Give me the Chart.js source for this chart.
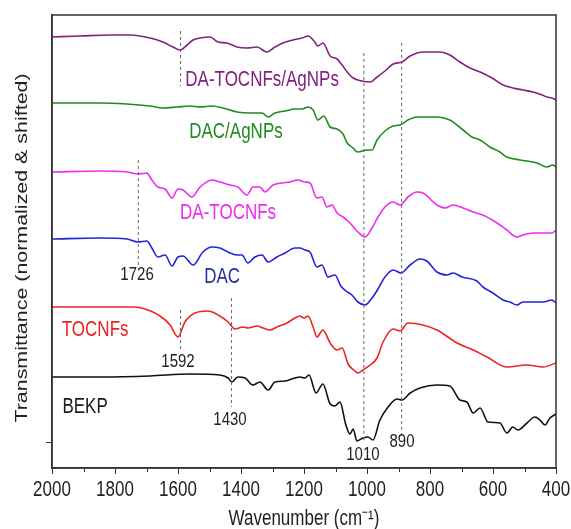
<!DOCTYPE html>
<html>
<head>
<meta charset="utf-8">
<script src="https://cdn.jsdelivr.net/npm/chart.js@4"></script>
<style>
  html, body { margin: 0; padding: 0; background: #fff; }
  #wrap { width: 571px; height: 529px; }
</style>
</head>
<body>
<div id="wrap"><canvas id="ftirChart" width="571" height="529"></canvas></div>
<script>
// spectra: [wavenumber (cm-1), transmittance (normalized & shifted, a.u.)]
const bekp = [[2000,6.5],[1848,6.5],[1689,6.6],[1562,6.8],[1467,6.7],[1441,6.4],[1429,6.0],[1410,6.5],[1387,6.4],[1362,5.7],[1340,6.0],[1314,5.2],[1292,6.0],[1260,6.1],[1229,6.4],[1213,6.5],[1197,6.4],[1184,6.7],[1162,4.9],[1140,5.8],[1117,3.8],[1102,3.6],[1086,4.0],[1067,1.7],[1054,0.8],[1044,1.3],[1032,0.1],[1013,0.4],[997,0.5],[981,0.2],[959,2.2],[933,3.5],[905,4.3],[889,4.2],[863,4.9],[832,5.4],[778,5.7],[737,5.6],[705,4.2],[683,4.0],[663,2.9],[641,3.4],[616,2.0],[578,1.9],[556,0.9],[537,1.5],[521,1.2],[492,1.9],[467,2.5],[451,2.2],[435,1.7],[419,2.4],[400,2.8]];
const tocnfs = [[2000,13.5],[1848,13.5],[1737,13.5],[1705,13.3],[1657,12.6],[1625,11.7],[1600,10.5],[1578,12.0],[1546,12.9],[1505,13.1],[1467,12.6],[1441,12.0],[1419,11.3],[1394,11.5],[1378,11.4],[1349,11.6],[1330,11.4],[1308,11.2],[1286,11.5],[1254,11.9],[1229,12.4],[1213,12.6],[1200,12.4],[1187,12.6],[1171,11.5],[1159,10.5],[1140,11.2],[1117,9.9],[1095,9.2],[1079,9.4],[1060,7.8],[1038,7.1],[1029,6.9],[1013,7.2],[990,7.7],[968,8.4],[949,10.0],[917,11.3],[895,11.1],[870,11.9],[822,11.7],[778,11.2],[714,9.9],[663,9.2],[619,8.5],[556,7.5],[492,7.7],[441,7.5],[400,7.9]];
const dac = [[2000,20.3],[1848,20.4],[1762,20.3],[1727,20.0],[1699,20.1],[1683,19.4],[1664,18.5],[1641,18.7],[1619,17.6],[1600,18.5],[1584,18.6],[1552,17.7],[1521,19.0],[1492,19.5],[1467,19.4],[1441,19.0],[1413,18.7],[1397,18.7],[1378,17.9],[1356,18.5],[1333,18.7],[1314,18.0],[1286,18.5],[1260,18.9],[1229,19.4],[1213,19.4],[1197,19.2],[1181,19.0],[1159,17.5],[1143,17.7],[1124,16.5],[1102,16.7],[1083,15.6],[1067,15.1],[1048,14.7],[1029,14.0],[1006,13.7],[984,14.4],[965,15.3],[943,16.5],[917,17.2],[892,16.9],[863,17.7],[832,18.3],[810,18.1],[778,17.0],[746,16.7],[727,16.9],[698,16.5],[651,16.1],[632,15.5],[600,14.9],[568,14.2],[546,14.0],[524,13.7],[505,14.0],[473,14.0],[441,14.0],[413,14.2],[400,13.9]];
const daTocnfs = [[2000,27.0],[1848,27.1],[1762,27.0],[1727,26.8],[1699,26.9],[1683,26.2],[1664,25.5],[1641,25.3],[1619,24.4],[1600,25.3],[1584,25.2],[1556,24.5],[1530,25.5],[1492,26.2],[1467,26.0],[1435,25.7],[1410,25.5],[1381,24.7],[1362,25.5],[1340,25.5],[1324,25.0],[1298,25.7],[1270,25.9],[1244,26.0],[1219,26.2],[1197,26.0],[1181,25.9],[1159,24.4],[1143,24.5],[1127,23.5],[1111,23.7],[1095,22.9],[1076,22.5],[1054,21.9],[1029,21.0],[1006,20.5],[984,21.4],[965,22.5],[943,23.5],[917,24.0],[895,23.7],[870,24.5],[841,25.0],[822,24.9],[778,23.7],[752,23.4],[727,23.7],[695,23.4],[663,23.0],[632,22.7],[587,21.9],[556,21.2],[524,20.5],[505,20.7],[473,20.9],[441,20.9],[413,20.9],[400,21.2]];
const dacAg = [[2000,33.9],[1848,33.9],[1689,33.6],[1648,33.4],[1603,33.5],[1562,33.6],[1530,33.5],[1492,33.6],[1457,33.4],[1413,33.0],[1371,32.9],[1333,32.9],[1314,32.5],[1292,32.9],[1260,33.1],[1229,33.3],[1206,33.3],[1187,33.5],[1171,33.2],[1156,32.2],[1137,32.6],[1117,31.5],[1095,31.3],[1076,30.8],[1063,29.9],[1048,29.5],[1029,29.0],[1000,29.2],[984,29.2],[968,30.2],[943,31.1],[917,31.6],[895,31.7],[870,32.2],[841,32.5],[778,32.5],[737,32.2],[695,31.2],[667,30.5],[641,30.2],[610,29.5],[578,29.0],[556,28.5],[514,28.2],[460,27.9],[429,27.5],[410,27.7],[400,27.5]];
const daTocnfsAg = [[2000,40.5],[1911,40.6],[1816,40.7],[1752,40.7],[1689,40.4],[1648,40.0],[1616,39.5],[1594,39.2],[1571,39.7],[1552,40.2],[1530,40.4],[1498,40.5],[1473,40.0],[1445,39.9],[1413,39.5],[1381,39.4],[1349,39.5],[1318,39.0],[1292,39.5],[1267,39.9],[1235,40.2],[1206,40.4],[1187,40.6],[1168,40.1],[1156,39.6],[1140,39.9],[1117,38.6],[1095,38.3],[1079,37.7],[1063,37.0],[1044,36.4],[1016,36.1],[990,36.0],[968,36.5],[943,37.1],[917,37.8],[889,38.0],[863,38.6],[822,39.0],[768,39.0],[737,38.7],[705,38.0],[673,37.4],[641,37.0],[603,36.4],[568,35.7],[537,35.4],[505,35.2],[473,35.0],[444,34.7],[429,34.5],[413,34.4],[400,34.2]];

const seriesNames = ['BEKP', 'TOCNFs', 'DAC', 'DA-TOCNFs', 'DAC/AgNPs', 'DA-TOCNFs/AgNPs'];
const seriesData = [bekp, tocnfs, dac, daTocnfs, dacAg, daTocnfsAg];
const seriesColors = ['#111111', '#ec2424', '#2323dc', '#ee2bee', '#218a21', '#80227f'];
const nameColors = ['#1a1a1a', '#ec2424', '#24309c', '#ee2bee', '#218a21', '#80227f'];
const nameAt = [[1895, 3.5], [1863, 11.2], [1460, 16.5], [1441, 22.9], [1416, 31.0], [1333, 36.2]];

// dashed guide lines: [wavenumber, top, bottom]
const guideLines = [[1592, 41.1, 35.6], [1726, 28.2, 17.5], [1592, 13.2, 9.0], [1430, 14.4, 3.5], [1010, 38.9, 0.2], [890, 39.9, 0.5]];
const peakLabels = ['1726', '1592', '1430', '1010', '890'];
const peakAt = [[1730, 16.7], [1600, 8.0], [1435, 2.2], [1013, -1.3], [889, 0.0]];

const xTicks = [2000, 1800, 1600, 1400, 1200, 1000, 800, 600, 400];
const xMinorTicks = [1900, 1700, 1500, 1300, 1100, 900, 700, 500];

const FONT = '"Liberation Sans", Arial, sans-serif';
const STRETCH = 1.26; // the source figure is drawn a bit taller than wide

// text drawn a little stretched, like in the original figure
function drawText(ctx, text, x, y, size, color, vertical) {
	ctx.save();
	ctx.translate(x, y);
	if (vertical) {
		ctx.rotate(-Math.PI / 2);
		ctx.scale(STRETCH, 1);
	} else {
		ctx.scale(1, STRETCH);
	}
	ctx.font = size + 'px ' + FONT;
	ctx.fillStyle = color;
	ctx.textAlign = 'center';
	ctx.textBaseline = 'middle';
	ctx.fillText(text, 0, 0);
	ctx.restore();
}

const frameAndText = {
	id: 'frameAndText',
	afterDraw(chart) {
		const { ctx, chartArea: a, scales: { x, y } } = chart;
		ctx.save();
		ctx.strokeStyle = '#333';
		ctx.lineWidth = 1.5;
		ctx.strokeRect(a.left, a.top, a.right - a.left, a.bottom - a.top);

		// minor ticks
		ctx.lineWidth = 1;
		xMinorTicks.forEach(function (w) {
			const px = Math.round(x.getPixelForValue(w)) + 0.5;
			ctx.beginPath();
			ctx.moveTo(px, a.bottom);
			ctx.lineTo(px, a.bottom + 4);
			ctx.stroke();
		});
		ctx.restore();

		xTicks.forEach(function (w) {
			drawText(ctx, String(w), x.getPixelForValue(w), a.bottom + 22, 17, '#222');
		});
		drawText(ctx, 'Wavenumber (cm⁻¹)', (a.left + a.right) / 2, 519, 17, '#222');
		drawText(ctx, 'Transmittance (normalized & shifted)', 22, 248, 17, '#222', true);

		seriesNames.forEach(function (name, i) {
			drawText(ctx, name, x.getPixelForValue(nameAt[i][0]), y.getPixelForValue(nameAt[i][1]), 17, nameColors[i]);
		});
		peakLabels.forEach(function (t, i) {
			drawText(ctx, t, x.getPixelForValue(peakAt[i][0]), y.getPixelForValue(peakAt[i][1]), 15, '#222');
		});
	}
};

document.addEventListener('DOMContentLoaded', function () {
	const datasets = [];

	guideLines.forEach(function (g) {
		datasets.push({
			data: [{ x: g[0], y: g[1] }, { x: g[0], y: g[2] }],
			borderColor: '#666',
			borderWidth: 1,
			borderDash: [3, 3],
			pointRadius: 0,
			tension: 0
		});
	});

	seriesData.forEach(function (s, i) {
		datasets.push({
			label: seriesNames[i],
			data: s.map(function (p) { return { x: p[0], y: p[1] }; }),
			borderColor: seriesColors[i],
			borderWidth: 1.6,
			pointRadius: 0,
			cubicInterpolationMode: 'monotone'
		});
	});

	const ctx = document.getElementById('ftirChart').getContext('2d');
	new Chart(ctx, {
		type: 'line',
		data: { datasets: datasets },
		options: {
			responsive: false,
			animation: false,
			layout: { padding: { top: 15, right: 15, left: 0, bottom: 0 } },
			plugins: { legend: { display: false }, tooltip: { enabled: false } },
			scales: {
				x: {
					type: 'linear',
					reverse: true,
					min: 400,
					max: 2000,
					afterBuildTicks: function (scale) {
						scale.ticks = xTicks.map(function (v) { return { value: v }; });
					},
					afterFit: function (scale) { scale.height = 61; },
					ticks: { display: false },
					grid: { drawOnChartArea: false, tickLength: 6, color: '#333' },
					border: { color: '#333', width: 1.5 }
				},
				y: {
					min: -2.6,
					max: 42.7,
					afterBuildTicks: function (scale) { scale.ticks = [{ value: 0 }]; },
					afterFit: function (scale) { scale.width = 52; },
					ticks: { display: false },
					grid: { drawOnChartArea: false, tickLength: 6, color: '#333' },
					border: { color: '#333', width: 1.5 }
				}
			}
		},
		plugins: [frameAndText]
	});
});
</script>
</body>
</html>
